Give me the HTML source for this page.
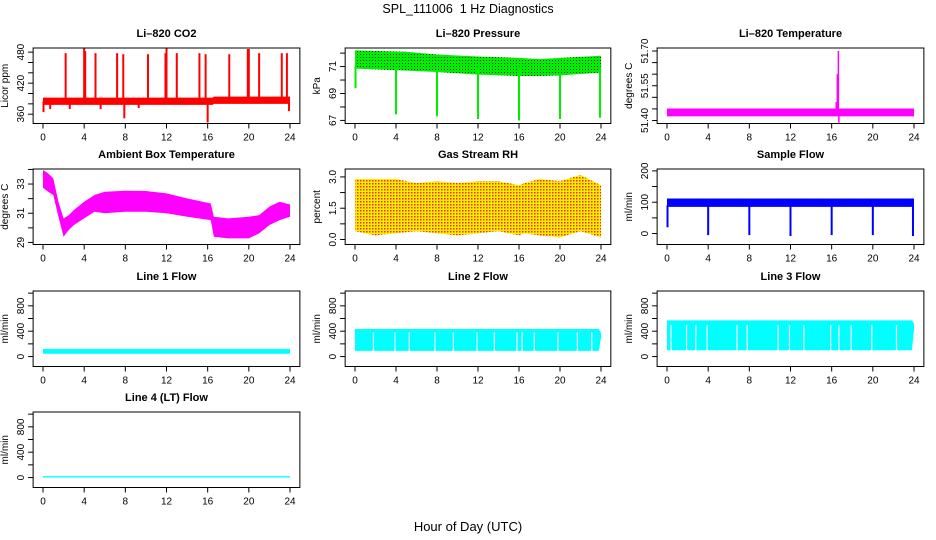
<!DOCTYPE html>
<html><head><meta charset="utf-8"><style>
html,body{margin:0;padding:0;background:#fff;}
svg{display:block;font-family:"Liberation Sans",Arial,sans-serif;}
</style></head><body>
<svg id="c" width="936" height="540" viewBox="0 0 936 540">
<defs>
<pattern id="pdots" width="3" height="3" patternUnits="userSpaceOnUse"><rect width="3" height="3" fill="#00ee00"/><rect width="1" height="1" fill="#003300"/></pattern>
<pattern id="rhdots" width="3" height="3" patternUnits="userSpaceOnUse"><rect width="3" height="3" fill="#ffee00"/><rect width="1.5" height="1.5" fill="#e83010"/></pattern>
</defs>
<text x="468" y="13" text-anchor="middle" font-size="12.5">SPL_111006&#160; 1 Hz Diagnostics</text>
<text x="468" y="531" text-anchor="middle" font-size="13">Hour of Day (UTC)</text>
</svg>
<script>
// ---- data ----
const xTicks = [0,4,8,12,16,20,24];
// CO2
const co2T = [0,16.5,16.6,24];
const co2Lo = [378,378,380,380];
const co2Hi = [392,392,394,394];
const co2SpikeT = [2.2,4.0,4.1,5.1,7.2,7.8,10.2,11.9,12.0,13.0,15.2,15.8,18.1,19.9,20.0,21.0,23.2,23.7,16.0,7.9,0.05,23.9,0.7,2.6,5.6,9.3];
const co2SpikeV = [478,488,482,478,478,476,476,478,488,478,478,476,476,486,486,478,478,478,344,352,364,366,370,370,370,372];
// Pressure
const prT = [0,5,8,12,16,18,20,24];
const prHi = [72.2,72.1,71.9,71.75,71.65,71.55,71.65,71.8];
const prLo = [70.85,70.7,70.6,70.4,70.3,70.3,70.35,70.55];
const prDipT = [0.05,4,8,12,16,20,23.9];
const prDipV = [69.4,67.45,67.3,67.1,67.0,67.1,67.2];
// Li-820 temperature
const ltT = [0,24];
const ltLo = [51.418,51.418];
const ltHi = [51.452,51.452];
const ltSpikeT = [16.45,16.55,16.65];
const ltSpikeV = [51.48,51.60,51.70];
// Ambient
const amT = [0,0.5,1,1.5,2,2.5,3,4,5,6,8,10,12,14,16.3,16.6,18,20,21,22,23,24];
const amHi = [33.96,33.73,33.39,31.79,30.65,30.87,31.22,31.79,32.25,32.47,32.54,32.52,32.36,32.02,31.67,30.76,30.65,30.76,30.87,31.45,31.79,31.6];
const amLo = [32.75,32.47,32.25,30.76,29.39,29.85,30.19,30.65,31.1,31.0,31.1,31.1,31.0,30.76,30.53,29.39,29.28,29.28,29.62,30.19,30.53,30.76];
// RH
const rhT = [0,2,4,6,8,10,12,14,16,16.5,18,20,22,24];
const rhHi = [2.9,2.9,2.9,2.7,2.8,2.7,2.8,2.8,2.6,2.7,2.9,2.8,3.1,2.6];
const rhLo = [0.4,0.2,0.3,0.4,0.3,0.2,0.3,0.4,0.2,0.3,0.2,0.1,0.4,0.1];
// Sample flow
const sfT = [0,24];
const sfLo = [85,85];
const sfHi = [112,112];
const sfDipT = [0.05,4,8,12,16,20,23.9];
const sfDipV = [20,-5,-5,-8,-5,-5,-8];
// Line flows
const l1T = [0,24]; const l1Lo = [45,45]; const l1Hi = [120,120];
const l2T = [0,23.8,24]; const l2Lo = [90,90,300]; const l2Hi = [435,435,370];
const l2GapT = [1.8,3.9,5.3,7.8,9.6,11.9,13.6,15.8,16.3,17.5,19.8,21.7,23.1];
const l3T = [0,23.8,24]; const l3Lo = [100,100,420]; const l3Hi = [570,570,520];
const l3GapT = [0.4,1.9,2.8,3.9,6.8,7.8,10.8,11.9,13.3,15.9,16.7,17.9,19.9,22.3];
const l4T = [0,24]; const l4Lo = [0,0]; const l4Hi = [22,22];

// ---- layout ----
const colX = [[43,290],[355,601],[667,914]];
const rowTop = [48,169,291,412];
const boxH = 75.5;
const svg = document.getElementById('c');
const NS = 'http://www.w3.org/2000/svg';
function mk(tag, attrs, parent){const e=document.createElementNS(NS,tag);for(const k in attrs)e.setAttribute(k,attrs[k]);(parent||svg).appendChild(e);return e;}

function panel(o){
  const [x0,x24]=colX[o.col];
  const xs=t=>x0+(x24-x0)*t/24;
  const bl=x0-(x24-x0)*0.04, br=x24+(x24-x0)*0.04;
  const top=rowTop[o.row], bot=top+boxH;
  const ys=v=>bot-(v-o.yMin)/(o.yMax-o.yMin)*boxH;
  const g=mk('g',{});
  
  
  const tt=mk('text',{x:(bl+br)/2,y:top-11,'text-anchor':'middle','font-size':'11','font-weight':'bold'},g);
  tt.textContent=o.title;
  
  
  const cg=mk('g',{},g);
  
  
  o.draw(cg,xs,ys);
  const box=mk('rect',{x:bl,y:top,width:br-bl,height:boxH,fill:'none',stroke:'#000','stroke-width':1},g);
  
  
  xTicks.forEach(t=>{
    mk('line',{x1:xs(t),x2:xs(t),y1:bot,y2:bot+5,stroke:'#000'},g);
    const l=mk('text',{x:xs(t),y:bot+17,'text-anchor':'middle','font-size':'10'},g);l.textContent=t;
    
    
  });
  o.yTicks.forEach((v,i)=>{
    mk('line',{x1:bl-5,x2:bl,y1:ys(v),y2:ys(v),stroke:'#000'},g);
    if(o.yLabels[i]){const X=bl-9,Y=ys(v);const l=mk('text',{x:X,y:Y,'text-anchor':'middle','font-size':'10',transform:`rotate(-90 ${X} ${Y})`},g);l.textContent=o.yLabels[i];
      
      }
  });
  const X=bl-25,Y=(top+bot)/2;
  const yl=mk('text',{x:X,y:Y,'text-anchor':'middle','font-size':'10',transform:`rotate(-90 ${X} ${Y})`},g);
  yl.textContent=o.ylab;
  
  
}
function band(g,xs,ys,T,lo,hi,fill){
  let pts=T.map((t,i)=>xs(t)+','+ys(hi[i]));
  pts=pts.concat(T.map((t,i)=>xs(t)+','+ys(lo[i])).reverse());
  const p=mk('polygon',{points:pts.join(' '),fill:fill},g);
  
  
}
function gaps(g,xs,ys,T,lo,hi){
  T.forEach(t=>{
    const l=mk('line',{x1:xs(t),x2:xs(t),y1:ys(hi),y2:ys(lo),stroke:'#fff','stroke-width':1.2},g);
    
    
  });
}
function spikes(g,xs,ys,T,V,base,col,w){
  T.forEach((t,i)=>{
    const l=mk('line',{x1:xs(t),x2:xs(t),y1:ys(base),y2:ys(V[i]),stroke:col,'stroke-width':w||2},g);
    
    
  });
}
const flowTicks=[0,200,400,600,800,1000], flowLabels=['0','','400','','800',''];
const panels=[
 {name:'co2',col:0,row:0,title:'Li\u2013820 CO2',ylab:'Licor ppm',yMin:342,yMax:488,yTicks:[360,380,400,420,440,460,480],yLabels:['360','','','420','','','480'],
  draw:(g,xs,ys)=>{band(g,xs,ys,co2T,co2Lo,co2Hi,'#ff0000');spikes(g,xs,ys,co2SpikeT,co2SpikeV,385,'#ff0000',2);}},
 {name:'pressure',col:1,row:0,title:'Li\u2013820 Pressure',ylab:'kPa',yMin:66.77,yMax:72.38,yTicks:[67,68,69,70,71,72],yLabels:['67','','69','','71',''],
  draw:(g,xs,ys)=>{band(g,xs,ys,prT,prLo,prHi,'url(#pdots)');spikes(g,xs,ys,prDipT,prDipV,71,'#00ee00',2);}},
 {name:'li820-temperature',col:2,row:0,title:'Li\u2013820 Temperature',ylab:'degrees C',yMin:51.387,yMax:51.713,yTicks:[51.40,51.45,51.50,51.55,51.60,51.65,51.70],yLabels:['51.40','','','51.55','','','51.70'],
  draw:(g,xs,ys)=>{band(g,xs,ys,ltT,ltLo,ltHi,'#ff00ff');spikes(g,xs,ys,ltSpikeT,ltSpikeV,51.44,'#ff00ff',1.5);spikes(g,xs,ys,[16.7],[51.39],51.44,'#ff00ff',1.5);}},
 {name:'ambient-temperature',col:0,row:1,title:'Ambient Box Temperature',ylab:'degrees C',yMin:28.86,yMax:34.03,yTicks:[29,30,31,32,33,34],yLabels:['29','','31','','33',''],
  draw:(g,xs,ys)=>{band(g,xs,ys,amT,amLo,amHi,'#ff00ff');}},
 {name:'gas-stream-rh',col:1,row:1,title:'Gas Stream RH',ylab:'percent',yMin:-0.24,yMax:3.38,yTicks:[0,0.75,1.5,2.25,3.0],yLabels:['0.0','','1.5','','3.0'],
  draw:(g,xs,ys)=>{band(g,xs,ys,rhT,rhLo,rhHi,'url(#rhdots)');}},
 {name:'sample-flow',col:2,row:1,title:'Sample Flow',ylab:'ml/min',yMin:-35,yMax:206,yTicks:[0,50,100,150,200],yLabels:['0','','100','','200'],
  draw:(g,xs,ys)=>{band(g,xs,ys,sfT,sfLo,sfHi,'#0000ff');spikes(g,xs,ys,sfDipT,sfDipV,90,'#0000ff',2);}},
 {name:'line1-flow',col:0,row:2,title:'Line 1 Flow',ylab:'ml/min',yMin:-157,yMax:1034,yTicks:flowTicks,yLabels:flowLabels,
  draw:(g,xs,ys)=>{band(g,xs,ys,l1T,l1Lo,l1Hi,'#00ffff');}},
 {name:'line2-flow',col:1,row:2,title:'Line 2 Flow',ylab:'ml/min',yMin:-157,yMax:1034,yTicks:flowTicks,yLabels:flowLabels,
  draw:(g,xs,ys)=>{band(g,xs,ys,l2T,l2Lo,l2Hi,'#00ffff');gaps(g,xs,ys,l2GapT,90,380);}},
 {name:'line3-flow',col:2,row:2,title:'Line 3 Flow',ylab:'ml/min',yMin:-157,yMax:1034,yTicks:flowTicks,yLabels:flowLabels,
  draw:(g,xs,ys)=>{band(g,xs,ys,l3T,l3Lo,l3Hi,'#00ffff');gaps(g,xs,ys,l3GapT,100,500);}},
 {name:'line4-flow',col:0,row:3,title:'Line 4 (LT) Flow',ylab:'ml/min',yMin:-157,yMax:1034,yTicks:flowTicks,yLabels:flowLabels,
  draw:(g,xs,ys)=>{band(g,xs,ys,l4T,l4Lo,l4Hi,'#00ffff');}}
];
panels.forEach(panel);
</script>
</body></html>
